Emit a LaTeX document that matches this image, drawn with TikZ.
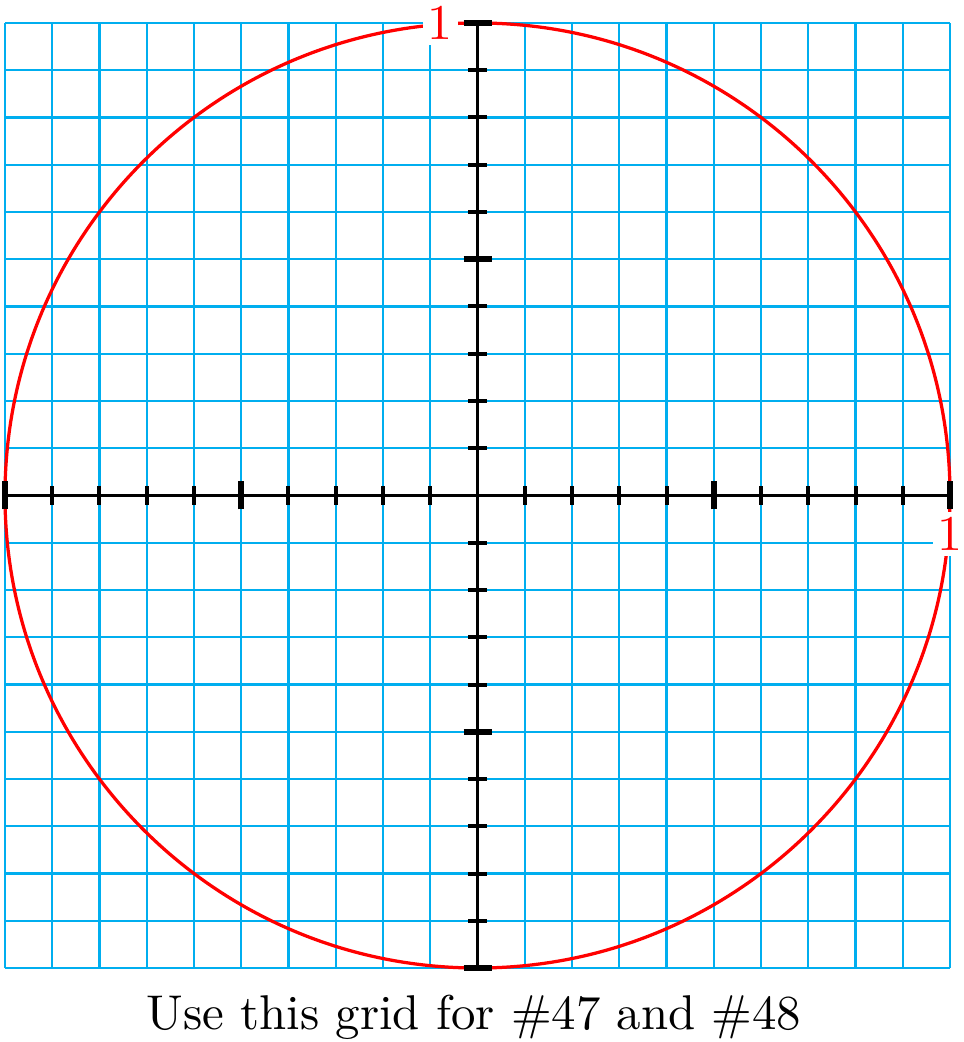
\documentclass[tikz,border=0pt]{standalone}
\definecolor{gridc}{RGB}{0,174,239}
\tikzset{
  gridline/.style={gridc, line width=0.42pt},
  unitcircle/.style={red, line width=0.65pt},
  axisline/.style={black, line width=0.7pt},
  minortick/.style={black, line width=0.8pt},
  majortick/.style={black, line width=1.15pt},
  lab/.style={text=red, fill=white, inner sep=1pt, font=\normalsize},
}
\begin{document}
\begin{tikzpicture}[x=0.2pt,y=0.2pt]
\useasboundingbox (0,0) rectangle (963,1042);
\begin{scope}[shift={(477.5,546.5)},x=9.45pt,y=9.45pt]
  \foreach \i in {-10,...,10} {
    \draw[gridline] (\i,-10) -- (\i,10);
    \draw[gridline] (-10,\i) -- (10,\i);
  }
  \draw[unitcircle] (0,0) circle (10);
  \draw[axisline] (-10,0) -- (10,0);
  \draw[axisline] (0,-10) -- (0,10);
  \foreach \i in {-9,-8,-7,-6,-4,-3,-2,-1,1,2,3,4,6,7,8,9} {
    \draw[minortick] (\i,0) ++(0,-1.9pt) -- ++(0,3.8pt);
    \draw[minortick] (0,\i) ++(-1.9pt,0) -- ++(3.8pt,0);
  }
  \foreach \i in {-10,-5,5,10} {
    \draw[majortick] (\i,0) ++(0,-2.8pt) -- ++(0,5.6pt);
    \draw[majortick] (0,\i) ++(-2.8pt,0) -- ++(5.6pt,0);
  }
\end{scope}
\node[lab] (top1) at (440,1019) {1};
\node[lab] (right1) at (950,508) {1};
\node[anchor=base, scale=0.977] (caption) at (474,12) {Use this grid for \#47 and \#48};
\end{tikzpicture}
\end{document}
